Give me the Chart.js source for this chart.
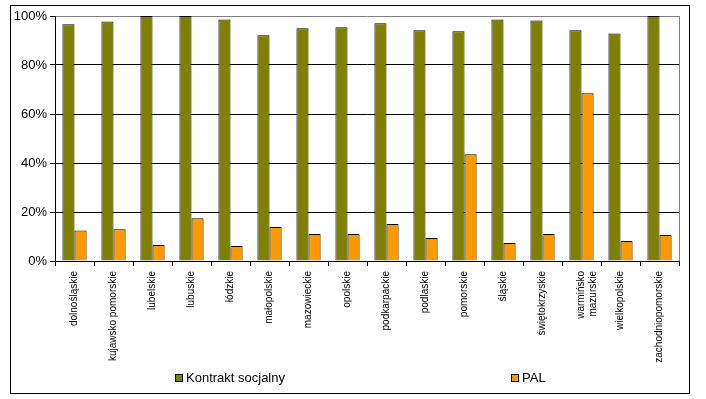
<!DOCTYPE html>
<html>
<head>
<meta charset="utf-8">
<script src="https://cdn.jsdelivr.net/npm/chart.js@4"></script>
<style>
  html, body { margin: 0; padding: 0; background: #fff; }
  canvas { display: block; }
</style>
</head>
<body>
<canvas id="chart" width="706" height="399"></canvas>
<script>
// dane
const regions = ['dolnośląskie', 'kujawsko pomorskie', 'lubelskie', 'lubuskie', 'łódzkie', 'małopolskie',
  'mazowieckie', 'opolskie', 'podkarpackie', 'podlaskie', 'pomorskie', 'śląskie', 'świętokrzyskie',
  ['warmińsko', 'mazurskie'], 'wielkopolskie', 'zachodniopomorskie'];
const kontrakt = [96.6, 97.8, 100, 100, 98.6, 92.1, 95.0, 95.4, 97.0, 94.2, 93.8, 98.6, 98.2, 94.2, 92.9, 100];
const pal = [12.4, 13.0, 6.5, 17.5, 6.1, 13.9, 11.0, 11.0, 15.1, 9.4, 43.6, 7.3, 11.0, 68.5, 8.2, 10.6];
const yTicks = [0, 20, 40, 60, 80, 100];

const font = 'Arial, "Liberation Sans", sans-serif';
const legendX = [175, 511];

// ramka, prawa krawędź wykresu i legenda
const frame = {
  id: 'frame',
  beforeDraw(chart) {
    const ctx = chart.ctx;
    ctx.save();
    ctx.fillStyle = '#fff';
    ctx.fillRect(0, 0, chart.width, chart.height);
    ctx.strokeStyle = '#000';
    ctx.lineWidth = 1;
    ctx.strokeRect(10.5, 5.5, 679, 388);
    ctx.restore();
  },
  beforeDatasetsDraw(chart) {
    const { ctx, chartArea: a } = chart;
    ctx.save();
    ctx.strokeStyle = '#808080';
    ctx.lineWidth = 1;
    ctx.beginPath();
    ctx.moveTo(Math.round(a.right) + 0.5, a.top);
    ctx.lineTo(Math.round(a.right) + 0.5, a.bottom);
    ctx.stroke();
    ctx.restore();
  },
  afterDraw(chart) {
    const ctx = chart.ctx;
    ctx.save();
    ctx.font = '13px ' + font;
    ctx.textBaseline = 'middle';
    chart.data.datasets.forEach((ds, i) => {
      const x = legendX[i], y = 374;
      ctx.fillStyle = ds.backgroundColor;
      ctx.fillRect(x + 0.5, y + 0.5, 7, 7);
      ctx.strokeStyle = '#000';
      ctx.strokeRect(x + 0.5, y + 0.5, 7, 7);
      ctx.fillStyle = '#000';
      ctx.fillText(ds.label, x + 11, y + 4);
    });
    ctx.restore();
  }
};

new Chart(document.getElementById('chart'), {
  type: 'bar',
  data: {
    labels: regions,
    datasets: [
      { label: 'Kontrakt socjalny', data: kontrakt, backgroundColor: '#808000', borderColor: '#000', borderWidth: 1 },
      { label: 'PAL', data: pal, backgroundColor: '#FF9900', borderColor: '#000', borderWidth: 1 }
    ]
  },
  options: {
    responsive: false,
    animation: false,
    layout: { padding: { left: 10, top: 16, right: 27, bottom: 0 } },
    datasets: { bar: { categoryPercentage: 0.62, barPercentage: 1 } },
    plugins: { legend: { display: false }, tooltip: { enabled: false } },
    scales: {
      x: {
        afterFit(s) { s.height = 138; },
        grid: { drawOnChartArea: false, tickLength: 5, tickColor: '#000', offset: true },
        border: { color: '#000' },
        ticks: { minRotation: 90, maxRotation: 90, padding: 5, color: '#000', font: { family: font, size: 10 } }
      },
      y: {
        min: 0,
        max: 100,
        afterFit(s) { s.width = 45; },
        afterBuildTicks(s) { s.ticks = yTicks.map(v => ({ value: v })); },
        grid: {
          color: c => (c.tick && c.tick.value === 100 ? '#808080' : '#000'),
          tickLength: 5,
          tickColor: '#000'
        },
        border: { color: '#000' },
        ticks: { padding: 3, color: '#000', font: { family: font, size: 13 }, callback: v => v + '%' }
      }
    }
  },
  plugins: [frame]
});
</script>
</body>
</html>
